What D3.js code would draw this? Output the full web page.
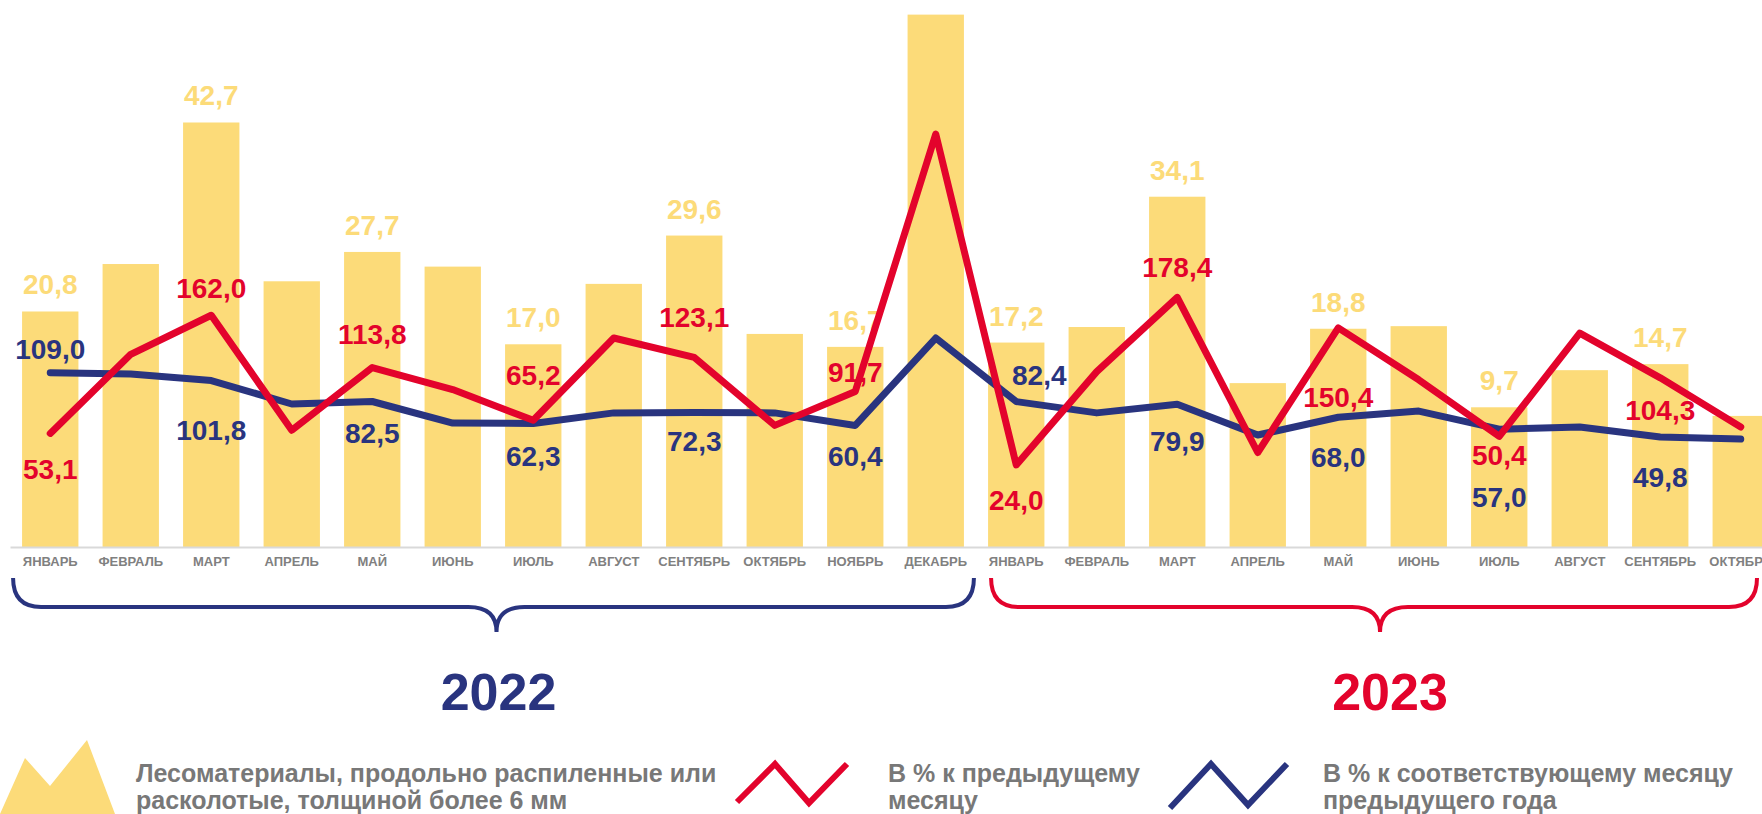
<!DOCTYPE html>
<html>
<head>
<meta charset="utf-8">
<script src="https://cdn.jsdelivr.net/npm/d3@7"></script>
<style>
  body { margin: 0; background: #fff; }
  svg { display: block; font-family: "Liberation Sans", Arial, sans-serif; font-weight: bold; }
</style>
</head>
<body>
<svg id="chart"></svg>
<script>
// data
const months2022 = ["ЯНВАРЬ", "ФЕВРАЛЬ", "МАРТ", "АПРЕЛЬ", "МАЙ", "ИЮНЬ", "ИЮЛЬ", "АВГУСТ", "СЕНТЯБРЬ", "ОКТЯБРЬ", "НОЯБРЬ", "ДЕКАБРЬ"];
const months2023 = ["ЯНВАРЬ", "ФЕВРАЛЬ", "МАРТ", "АПРЕЛЬ", "МАЙ", "ИЮНЬ", "ИЮЛЬ", "АВГУСТ", "СЕНТЯБРЬ", "ОКТЯБРЬ"];
const yearLabels = ["2022", "2023"];

// bars: лесоматериалы
const lumber = [20.8, 26.3, 42.7, 24.3, 27.7, 26.0, 17.0, 24.0, 29.6, 18.2, 16.7, 55.2,
                17.2, 19.0, 34.1, 12.5, 18.8, 19.1, 9.7, 14.0, 14.7, 8.7];
// red line: в % к предыдущему месяцу
const pctPrevMonth = [53.1, 126.0, 162.0, 56.0, 113.8, 93.5, 65.2, 141.0, 123.1, 60.5, 91.7, 329.0,
                      24.0, 110.0, 178.4, 35.5, 150.4, 102.5, 50.4, 145.5, 104.3, 59.0];
// blue line: в % к соответствующему месяцу предыдущего года
const pctPrevYear = [109.0, 107.8, 101.8, 80.2, 82.5, 62.6, 62.3, 72.0, 72.3, 72.0, 60.4, 141.0,
                     82.4, 72.0, 79.9, 51.6, 68.0, 73.7, 57.0, 59.0, 49.8, 47.9];

const legendLabels = [
  ["Лесоматериалы, продольно распиленные или", "расколотые, толщиной более 6 мм"],
  ["В % к предыдущему", "месяцу"],
  ["В % к соответствующему месяцу", "предыдущего года"]
];

// label placement (offset of the label centre from its point)
const redLabelDy  = [36, -27, -34, -45, -40, -20, 35, -30, 69, 19, 32];
const blueLabelDy = [-24, 49, 32, 33, 28, 31, -27, 37, 40, 68, 40];
const blueLabelDx = [0, 0, 0, 0, 0, 0, 23, 0, 0, 0, 0];

const width = 1762, height = 814;
const yellow = "#fcdb79", red = "#e3032c", blue = "#29347f", gray = "#787878";

const ru = d3.formatLocale({decimal: ",", thousands: " ", grouping: [3], currency: ["", ""]});
const fmt = ru.format(".1f");

let rows = months2022.map((m, i) => ({key: "2022-" + i, month: m, year: 0}))
  .concat(months2023.map((m, i) => ({key: "2023-" + i, month: m, year: 1})));
rows.forEach((d, i) => { d.i = i; d.vol = lumber[i]; d.mom = pctPrevMonth[i]; d.yoy = pctPrevYear[i]; });

const svg = d3.select("#chart").attr("width", width).attr("height", height);

let x = d3.scaleBand()
  .domain(rows.map(d => d.key))
  .range([10, 1781])
  .paddingInner(0.3)
  .paddingOuter(0.15);
let cx = d => x(d.key) + x.bandwidth() / 2;

let yBar = d3.scaleLinear().domain([-6.49, 50]).range([547, 59.5]);
let yPct = d3.scaleLinear().domain([-51.6, 400]).range([547, 57]);

// bars
svg.append("g").selectAll("rect")
  .data(rows).enter().append("rect")
  .attr("x", d => x(d.key))
  .attr("width", x.bandwidth())
  .attr("y", d => yBar(d.vol))
  .attr("height", d => yBar.range()[0] - yBar(d.vol))
  .attr("fill", yellow);

// axis with month names
let axis = d3.axisBottom(x)
  .tickSize(0)
  .tickPadding(10)
  .tickFormat(k => rows.find(r => r.key === k).month);
let gx = svg.append("g").attr("transform", "translate(0,547)").call(axis);
gx.select(".domain").attr("stroke", "#d9d9d9").attr("stroke-width", 2);
gx.selectAll("text")
  .attr("fill", "#808080")
  .style("font-size", "13px")
  .style("font-weight", "bold")
  .style("font-family", "'Liberation Sans', Arial, sans-serif");

let labelled = rows.filter(d => d.i % 2 === 0);

// bar value labels
svg.append("g").selectAll("text")
  .data(labelled).enter().append("text")
  .attr("x", cx)
  .attr("y", d => yBar(d.vol) - 27 + 10)
  .attr("text-anchor", "middle")
  .attr("fill", yellow)
  .style("font-size", "28px")
  .text(d => fmt(d.vol));

// line labels
svg.append("g").selectAll("text")
  .data(labelled).enter().append("text")
  .attr("x", (d, j) => cx(d) + blueLabelDx[j])
  .attr("y", (d, j) => yPct(d.yoy) + blueLabelDy[j] + 10)
  .attr("text-anchor", "middle")
  .attr("fill", blue)
  .style("font-size", "28px")
  .text(d => fmt(d.yoy));

svg.append("g").selectAll("text")
  .data(labelled).enter().append("text")
  .attr("x", cx)
  .attr("y", (d, j) => yPct(d.mom) + redLabelDy[j] + 10)
  .attr("text-anchor", "middle")
  .attr("fill", red)
  .style("font-size", "28px")
  .text(d => fmt(d.mom));

// lines
let drawLine = function(accessor, colour) {
  svg.append("path")
    .datum(rows)
    .attr("fill", "none")
    .attr("stroke", colour)
    .attr("stroke-width", 7)
    .attr("stroke-linejoin", "round")
    .attr("stroke-linecap", "round")
    .attr("d", d3.line().x(cx).y(d => yPct(accessor(d)))(rows));
};
drawLine(d => d.yoy, blue);
drawLine(d => d.mom, red);

// year braces
let brace = function(x0, x1, xm) {
  let yTop = 578, yMid = 607, yTip = 632, r = 28;
  return "M" + x0 + "," + yTop +
    " Q" + x0 + "," + yMid + " " + (x0 + r) + "," + yMid +
    " L" + (xm - r) + "," + yMid +
    " Q" + xm + "," + yMid + " " + xm + "," + yTip +
    " Q" + xm + "," + yMid + " " + (xm + r) + "," + yMid +
    " L" + (x1 - r) + "," + yMid +
    " Q" + x1 + "," + yMid + " " + x1 + "," + yTop;
};
let yearSpans = yearLabels.map((y, k) => {
  let part = rows.filter(d => d.year === k);
  let x0 = x(part[0].key) + (k === 0 ? -9 : 3);
  let x1 = Math.min(x(part[part.length - 1].key) + x.bandwidth() + 10, width - 5);
  let xm = (x0 + x1) / 2 + (k === 0 ? 3 : 6);
  return {label: y, x0: x0, x1: x1, xm: xm, colour: k === 0 ? blue : red};
});

svg.append("g").selectAll("path")
  .data(yearSpans).enter().append("path")
  .attr("d", d => brace(d.x0, d.x1, d.xm))
  .attr("fill", "none")
  .attr("stroke", d => d.colour)
  .attr("stroke-width", 4);

svg.append("g").selectAll("text")
  .data(yearSpans).enter().append("text")
  .attr("x", (d, k) => d.xm + (k === 0 ? 2 : 10))
  .attr("y", 710)
  .attr("text-anchor", "middle")
  .attr("fill", d => d.colour)
  .style("font-size", "52px")
  .text(d => d.label);

// legend
let lg = svg.append("g");
lg.append("polygon")
  .attr("points", [[0, 814], [25, 758], [50, 786], [87, 740], [115, 814]].map(p => p.join(",")).join(" "))
  .attr("fill", yellow);
lg.append("polyline")
  .attr("points", [[737, 802], [775, 764], [809, 803], [847, 764]].map(p => p.join(",")).join(" "))
  .attr("fill", "none").attr("stroke", red).attr("stroke-width", 6);
lg.append("polyline")
  .attr("points", [[1170, 808], [1211, 764], [1248, 805], [1287, 764]].map(p => p.join(",")).join(" "))
  .attr("fill", "none").attr("stroke", blue).attr("stroke-width", 6);

let legendX = [136, 888, 1323];
legendLabels.forEach((lines, k) => {
  let t = lg.append("text")
    .attr("fill", gray)
    .style("font-size", "25px");
  lines.forEach((ln, j) => {
    t.append("tspan").attr("x", legendX[k]).attr("y", 782 + j * 27).text(ln);
  });
});
</script>
</body>
</html>
